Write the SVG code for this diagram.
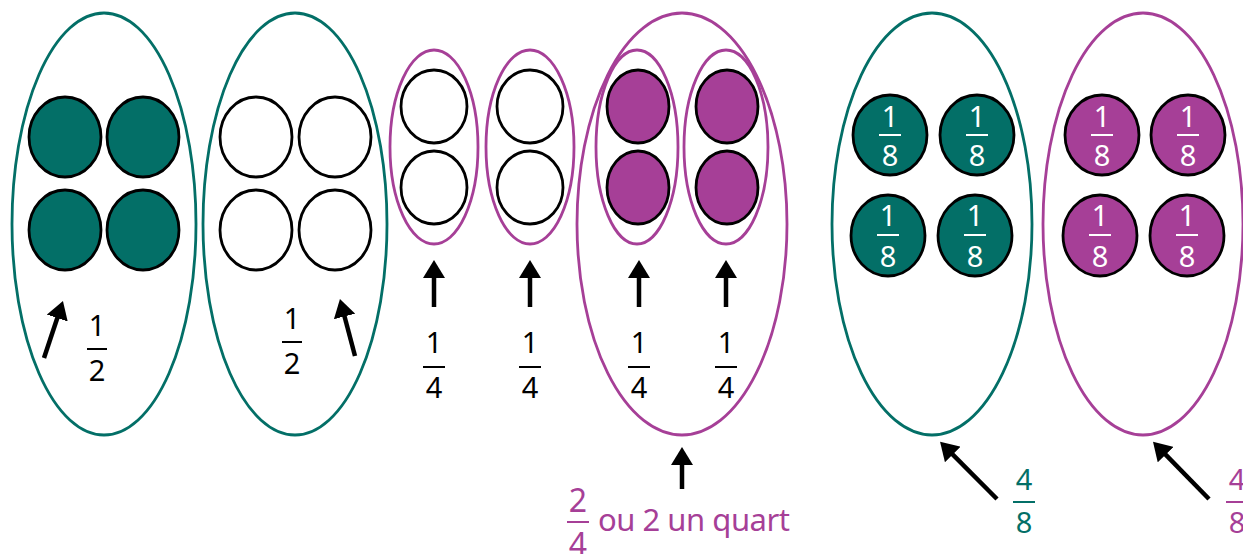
<svg xmlns="http://www.w3.org/2000/svg" width="1243" height="554" viewBox="0 0 1243 554">
<style>
.bg{fill:#ffffff}
.gT{fill:none;stroke:#036F67;stroke-width:2.8}
.gP{fill:none;stroke:#A63F97;stroke-width:2.8}
.cW{fill:#ffffff;stroke:#000;stroke-width:2.8}
.cT{fill:#036F67;stroke:#000;stroke-width:2.8}
.cP{fill:#A63F97;stroke:#000;stroke-width:2.8}
.t{font-family:"Noto Sans","Open Sans","Liberation Sans",sans-serif;font-size:29px;text-anchor:middle}
.big{font-size:32px}
.k{fill:#000}
.w{fill:#fff}
.tt{fill:#036F67}
.tp{fill:#A63F97}
.bk{stroke:#000;stroke-width:2}
.bw{stroke:#fff;stroke-width:2}
.bt{stroke:#036F67;stroke-width:2}
.bp{stroke:#A63F97;stroke-width:2}
.arr{stroke:#000;stroke-width:4.5;fill:none;marker-end:url(#ah)}
</style>
<defs>
<marker id="ah" viewBox="0 0 18 22" refX="8" refY="11" markerWidth="18" markerHeight="22" orient="auto" markerUnits="userSpaceOnUse">
<path d="M0,0 L18,11 L0,22 z" fill="#000"/>
</marker>
</defs>
<rect class="bg" x="0" y="0" width="1243" height="554"/>

<g id="half1">
<ellipse class="gT" cx="104" cy="224" rx="92" ry="211"/>
<ellipse class="cT" cx="65" cy="137" rx="36" ry="40"/>
<ellipse class="cT" cx="143" cy="137" rx="36" ry="40"/>
<ellipse class="cT" cx="65" cy="230" rx="36" ry="40"/>
<ellipse class="cT" cx="143" cy="230" rx="36" ry="40"/>
<text class="t k" x="97" y="336">1</text>
<line class="bk" x1="87" y1="349" x2="107" y2="349"/>
<text class="t k" x="97" y="381">2</text>
</g>

<g id="half2">
<ellipse class="gT" cx="295" cy="224" rx="92" ry="211"/>
<ellipse class="cW" cx="256" cy="137" rx="36" ry="40"/>
<ellipse class="cW" cx="335" cy="137" rx="36" ry="40"/>
<ellipse class="cW" cx="256" cy="230" rx="36" ry="40"/>
<ellipse class="cW" cx="335" cy="230" rx="36" ry="40"/>
<text class="t k" x="292" y="329">1</text>
<line class="bk" x1="282" y1="342" x2="302" y2="342"/>
<text class="t k" x="292" y="374">2</text>
</g>

<g id="quarter1">
<ellipse class="gP" cx="434" cy="147" rx="44" ry="97"/>
<ellipse class="cW" cx="434" cy="106.5" rx="33" ry="36.5"/>
<ellipse class="cW" cx="434" cy="187.5" rx="33" ry="36.5"/>
<text class="t k" x="434" y="353">1</text>
<line class="bk" x1="423" y1="367" x2="445" y2="367"/>
<text class="t k" x="434" y="398">4</text>
</g>

<g id="quarter2">
<ellipse class="gP" cx="530" cy="147" rx="44" ry="97"/>
<ellipse class="cW" cx="530" cy="106.5" rx="33" ry="36.5"/>
<ellipse class="cW" cx="530" cy="187.5" rx="33" ry="36.5"/>
<text class="t k" x="530" y="353">1</text>
<line class="bk" x1="519" y1="367" x2="541" y2="367"/>
<text class="t k" x="530" y="398">4</text>
</g>

<g id="twoquarters">
<ellipse class="gP" cx="682" cy="224" rx="105" ry="211"/>
</g>

<g id="quarter3">
<ellipse class="gP" cx="637" cy="147" rx="41" ry="97"/>
<ellipse class="cP" cx="638" cy="106.5" rx="31" ry="36.5"/>
<ellipse class="cP" cx="638" cy="187.5" rx="31" ry="36.5"/>
<text class="t k" x="639" y="353">1</text>
<line class="bk" x1="628" y1="367" x2="650" y2="367"/>
<text class="t k" x="639" y="398">4</text>
</g>

<g id="quarter4">
<ellipse class="gP" cx="726" cy="147" rx="42" ry="97"/>
<ellipse class="cP" cx="727" cy="106.5" rx="31" ry="36.5"/>
<ellipse class="cP" cx="727" cy="187.5" rx="31" ry="36.5"/>
<text class="t k" x="726" y="353">1</text>
<line class="bk" x1="715" y1="367" x2="737" y2="367"/>
<text class="t k" x="726" y="398">4</text>
</g>

<g id="label-twoquarters">
<text class="t big tp" x="578" y="512">2</text>
<line class="bp" x1="567" y1="522" x2="589" y2="522"/>
<text class="t big tp" x="578" y="556">4</text>
<text class="tp" x="598" y="531" font-family="'Noto Sans','Open Sans','Liberation Sans',sans-serif" font-size="31" textLength="192" lengthAdjust="spacing">ou 2 un quart</text>
</g>

<g id="eighths-teal">
<ellipse class="gT" cx="932" cy="224" rx="100" ry="211"/>
<ellipse class="cT" cx="890" cy="135" rx="37" ry="40"/>
<ellipse class="cT" cx="977" cy="135" rx="37" ry="40"/>
<ellipse class="cT" cx="888" cy="235.5" rx="37" ry="40.5"/>
<ellipse class="cT" cx="975" cy="235.5" rx="37" ry="40.5"/>
<text class="t w" x="890" y="127">1</text><line class="bw" x1="879" y1="135" x2="901" y2="135"/><text class="t w" x="890" y="166">8</text>
<text class="t w" x="977" y="127">1</text><line class="bw" x1="966" y1="135" x2="988" y2="135"/><text class="t w" x="977" y="166">8</text>
<text class="t w" x="888" y="226">1</text><line class="bw" x1="877" y1="235" x2="899" y2="235"/><text class="t w" x="888" y="267">8</text>
<text class="t w" x="975" y="226">1</text><line class="bw" x1="964" y1="235" x2="986" y2="235"/><text class="t w" x="975" y="267">8</text>
<text class="t tt" x="1024" y="490">4</text>
<line class="bt" x1="1013" y1="502" x2="1035" y2="502"/>
<text class="t tt" x="1024" y="533">8</text>
</g>

<g id="eighths-purple">
<ellipse class="gP" cx="1143" cy="224" rx="100" ry="211"/>
<ellipse class="cP" cx="1102" cy="135" rx="37" ry="40"/>
<ellipse class="cP" cx="1188" cy="135" rx="37" ry="40"/>
<ellipse class="cP" cx="1100" cy="235.5" rx="37" ry="40.5"/>
<ellipse class="cP" cx="1187" cy="235.5" rx="37" ry="40.5"/>
<text class="t w" x="1102" y="127">1</text><line class="bw" x1="1091" y1="135" x2="1113" y2="135"/><text class="t w" x="1102" y="166">8</text>
<text class="t w" x="1188" y="127">1</text><line class="bw" x1="1177" y1="135" x2="1199" y2="135"/><text class="t w" x="1188" y="166">8</text>
<text class="t w" x="1100" y="226">1</text><line class="bw" x1="1089" y1="235" x2="1111" y2="235"/><text class="t w" x="1100" y="267">8</text>
<text class="t w" x="1187" y="226">1</text><line class="bw" x1="1176" y1="235" x2="1198" y2="235"/><text class="t w" x="1187" y="267">8</text>
<text class="t tp" x="1237" y="490">4</text>
<line class="bp" x1="1226" y1="502" x2="1248" y2="502"/>
<text class="t tp" x="1237" y="533">8</text>
</g>

<g id="connectors">
<line class="arr" x1="44" y1="358" x2="59.8" y2="310.5"/>
<line class="arr" x1="355" y1="356" x2="342.5" y2="308.7"/>
<line class="arr" x1="434" y1="307" x2="434" y2="270"/>
<line class="arr" x1="530" y1="307" x2="530" y2="270"/>
<line class="arr" x1="639" y1="307" x2="639" y2="270"/>
<line class="arr" x1="726" y1="307" x2="726" y2="270"/>
<line class="arr" x1="682" y1="489" x2="682" y2="457"/>
<line class="arr" x1="997" y1="499" x2="947.1" y2="448.8"/>
<line class="arr" x1="1209" y1="499" x2="1160" y2="448.9"/>
</g>
</svg>
